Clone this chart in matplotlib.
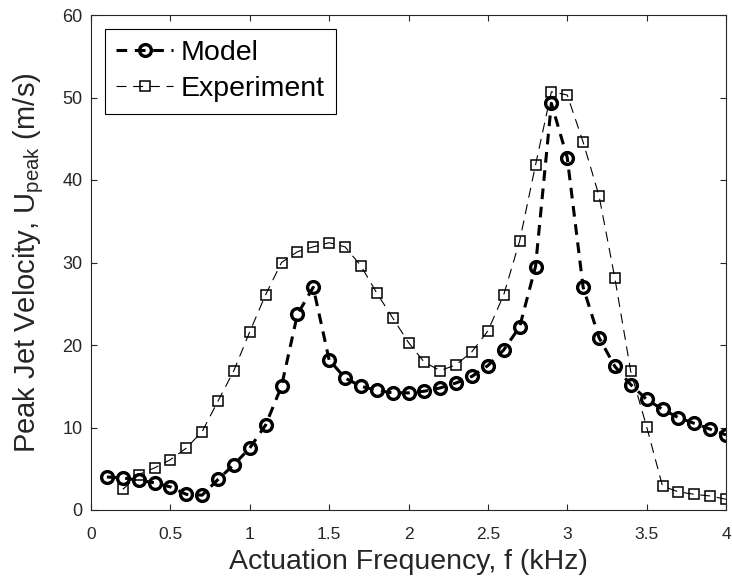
import numpy as np
import matplotlib
matplotlib.use('Agg')
import matplotlib.pyplot as plt

plt.rcParams['font.family'] = ['Liberation Sans', 'DejaVu Sans']
plt.rcParams['mathtext.fontset'] = 'custom'
plt.rcParams['mathtext.rm'] = 'Liberation Sans'
plt.rcParams['mathtext.it'] = 'Liberation Sans:italic'
plt.rcParams['mathtext.bf'] = 'Liberation Sans:bold'

# Model curve (circles), f = 0.1 ... 4.0 kHz
freq_model = [0.1, 0.2, 0.3, 0.4, 0.5, 0.6, 0.7, 0.8, 0.9, 1.0,
              1.1, 1.2, 1.3, 1.4, 1.5, 1.6, 1.7, 1.8, 1.9, 2.0,
              2.1, 2.2, 2.3, 2.4, 2.5, 2.6, 2.7, 2.8, 2.9, 3.0,
              3.1, 3.2, 3.3, 3.4, 3.5, 3.6, 3.7, 3.8, 3.9, 4.0]
u_model = [4.0, 3.9, 3.6, 3.3, 2.8, 1.9, 1.8, 3.7, 5.5, 7.5,
           10.3, 15.0, 23.7, 27.0, 18.2, 16.0, 15.0, 14.5, 14.2, 14.2,
           14.4, 14.8, 15.4, 16.2, 17.5, 19.4, 22.2, 29.5, 49.3, 42.7,
           27.0, 20.9, 17.4, 15.2, 13.4, 12.2, 11.2, 10.5, 9.8, 9.1]

# Experiment (squares), f = 0.2 ... 4.0 kHz
freq_exp = [0.2, 0.3, 0.4, 0.5, 0.6, 0.7, 0.8, 0.9, 1.0,
            1.1, 1.2, 1.3, 1.4, 1.5, 1.6, 1.7, 1.8, 1.9, 2.0,
            2.1, 2.2, 2.3, 2.4, 2.5, 2.6, 2.7, 2.8, 2.9, 3.0,
            3.1, 3.2, 3.3, 3.4, 3.5, 3.6, 3.7, 3.8, 3.9, 4.0]
u_exp = [2.5, 4.3, 5.1, 6.1, 7.5, 9.5, 13.2, 16.9, 21.6,
         26.1, 30.0, 31.3, 31.9, 32.4, 31.9, 29.6, 26.3, 23.3, 20.3,
         17.9, 16.9, 17.6, 19.2, 21.7, 26.1, 32.6, 41.8, 50.7, 50.3,
         44.6, 38.1, 28.1, 16.8, 10.1, 2.9, 2.2, 1.9, 1.7, 1.3]

xticks = [0, 0.5, 1, 1.5, 2, 2.5, 3, 3.5, 4]
xticklabels = ['0', '0.5', '1', '1.5', '2', '2.5', '3', '3.5', '4']
yticks = [0, 10, 20, 30, 40, 50, 60]

gray = '#262626'

fig = plt.figure(figsize=(7.32, 5.85), dpi=100)
ax = fig.add_axes([91 / 732, 75 / 585, 635 / 732, 495 / 585])

ax.plot(freq_model, u_model, color='black', lw=2.2, dashes=(3.5, 2.5),
        marker='o', ms=8.5, mew=2.4, mfc='none', mec='black', label='Model')
ax.plot(freq_exp, u_exp, color='black', lw=0.8, dashes=(9, 6),
        marker='s', ms=7.5, mew=1.1, mfc='none', mec='black', label='Experiment')

ax.set_xlim(0, 4)
ax.set_ylim(0, 60)
ax.set_xticks(xticks)
ax.set_xticklabels(xticklabels)
ax.set_yticks(yticks)

ax.tick_params(direction='in', top=True, right=True, length=4.5, width=0.8,
               colors=gray, labelcolor=gray)
ax.tick_params(axis='y', labelsize=13, pad=6)
ax.tick_params(axis='x', labelsize=12.5, pad=12)
for sp in ax.spines.values():
    sp.set_color(gray)
    sp.set_linewidth(0.8)

ax.set_xlabel('Actuation Frequency, f (kHz)', fontsize=20.5, color=gray, labelpad=5)
ax.set_ylabel('Peak Jet Velocity, U$_{\\mathrm{peak}}$ (m/s)', fontsize=21,
              color=gray, labelpad=12)

leg = ax.legend(loc='upper left', bbox_to_anchor=(0.022, 0.972), borderaxespad=0,
                fontsize=20.5, fancybox=False, frameon=True, edgecolor='black',
                handlelength=2.0, handletextpad=0.25, borderpad=0.4,
                labelspacing=0.35)
leg.get_frame().set_linewidth(0.8)
leg.get_frame().set_alpha(1)

fig.savefig('out.png', dpi=100)
